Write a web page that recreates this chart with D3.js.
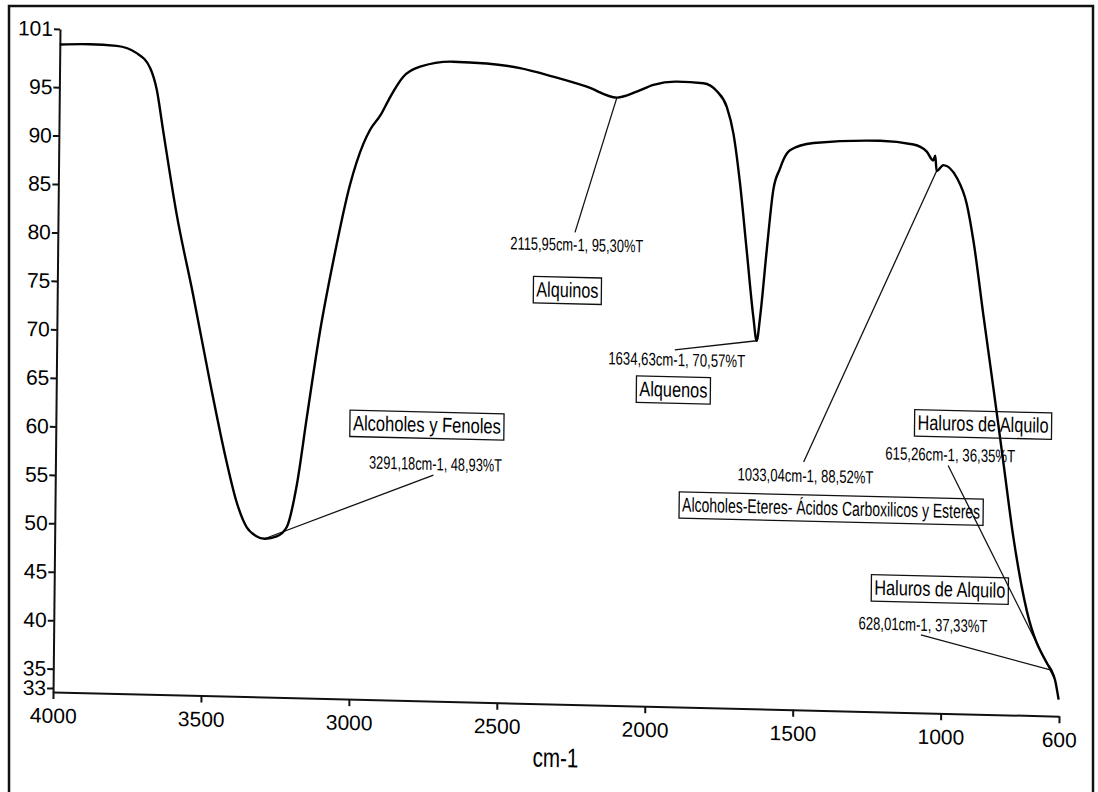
<!DOCTYPE html>
<html>
<head>
<meta charset="utf-8">
<script src="https://cdn.jsdelivr.net/npm/d3@7"></script>
<style>
  body { margin: 0; background: #fff; }
  svg text { font-family: "Liberation Sans Narrow", "Arial Narrow", "Liberation Sans", Arial, sans-serif; fill: #000; }
  .axis path, .axis line { stroke: #111; stroke-width: 2; }
  .axis text { font-size: 21px; }
</style>
</head>
<body>
<div id="chart"></div>
<script>

// spectrum (cm-1, %T)
var wavenumber = [4000, 3900, 3808, 3740, 3694, 3671, 3648, 3600, 3540, 3481, 3422, 3386, 3352, 3320, 3291,
  3250, 3216, 3184, 3152, 3110, 3068, 3015, 2971, 2949, 2914, 2882, 2839, 2782, 2671, 2557, 2444, 2332, 2218,
  2116, 2049, 1993, 1914, 1824, 1778, 1744, 1721, 1697, 1672, 1647, 1635, 1624, 1604, 1584, 1562, 1551, 1529,
  1450, 1225, 1112, 1067, 1045, 1038, 1033, 1010, 964, 930, 906, 870, 833, 797, 761, 712, 643, 628, 615, 602];
var transmittance = [99.4, 99.5, 99.4, 98.7, 97.2, 95.0, 90.8, 82.3, 73.8, 65.0, 56.8, 52.6, 50.1, 49.2, 48.93,
  49.2, 50.2, 54.5, 61.6, 70.6, 77.8, 85.6, 89.9, 91.35, 92.9, 94.8, 96.9, 98.0, 98.6, 98.5, 98.1, 97.3, 96.35,
  95.3, 95.96, 96.7, 97.1, 97.0, 96.2, 94.6, 91.9, 86.8, 79.9, 73.0, 70.57, 73.1, 80.0, 86.2, 88.4, 89.3, 90.3,
  91.1, 91.5, 91.2, 90.5, 89.6, 90.1, 88.52, 89.15, 87.85, 85.2, 81.4, 73.8, 66.2, 58.6, 51.0, 43.3, 38.05, 37.33, 36.35, 34.3];

var xTicks = [4000, 3500, 3000, 2500, 2000, 1500, 1000, 600];
var yTicks = [33, 35, 40, 45, 50, 55, 60, 65, 70, 75, 80, 85, 90, 95, 101];

// picked peaks
var peakWn = [3291.18, 2115.95, 1634.63, 1033.04, 615.26, 628.01];
var peakT = [48.93, 95.30, 70.57, 88.52, 36.35, 37.33];
var peakText = ["3291,18cm-1, 48,93%T", "2115,95cm-1, 95,30%T", "1634,63cm-1, 70,57%T",
  "1033,04cm-1, 88,52%T", "615,26cm-1, 36,35%T", "628,01cm-1, 37,33%T"];

// group names written on the sheet
var groupText = ["Alcoholes y Fenoles", "Alquinos", "Alquenos",
  "Alcoholes-Eteres- Ácidos Carboxilicos y Esteres", "Haluros de Alquilo", "Haluros de Alquilo"];

// where the labels sit on the page: [center x, baseline, width, end of leader y]
var peakPos = [[440, 461, 133, 466], [579, 238.5, 133, 220], [680, 351, 137, 335],
  [810, 464, 136, 444], [954.5, 439.5, 130, 444], [929, 610, 129, 614]];
// [center x, baseline, width, font size]
var groupPos = [[431, 423, 148, 21], [570, 285, 62, 21], [677, 382, 68, 21],
  [836, 496.5, 298, 20], [987, 409, 131, 21], [945.5, 575, 131, 21]];

var W = 1098, H = 792;

var svg = d3.select("#chart").append("svg")
    .attr("width", W)
    .attr("height", H);

// page frame
svg.append("rect")
    .attr("x", 9).attr("y", 6)
    .attr("width", 1084).attr("height", 800)
    .attr("fill", "none")
    .attr("stroke", "#111")
    .attr("stroke-width", 2.5);

// the scan is a bit skewed, so the plot is too
var g = svg.append("g")
    .attr("transform", "matrix(1,0.024,-0.0105,1,0.3,-1.44)");

var x = d3.scaleLinear().domain([4000, 600]).range([60, 1066]);
var y = d3.scaleLinear().domain([32.6, 101]).range([692, 29]);

g.append("g")
    .attr("class", "axis")
    .attr("transform", "translate(0,692)")
    .call(d3.axisBottom(x).tickValues(xTicks).tickFormat(d3.format("d"))
      .tickSize(7).tickSizeOuter(0).tickPadding(9));

g.append("g")
    .attr("class", "axis")
    .attr("transform", "translate(60,0)")
    .call(d3.axisLeft(y).tickValues(yTicks).tickFormat(d3.format("d"))
      .tickSize(6).tickSizeOuter(0).tickPadding(1));

g.selectAll(".axis text").attr("fill", "#000");

// squeeze a text to a given width (the sheet uses a narrow face)
function narrowText(parent, s, cx, base, w, size) {
  var holder = parent.append("g")
      .attr("transform", "translate(" + cx + "," + base + ")");
  var t = holder.append("text")
      .attr("text-anchor", "middle")
      .attr("font-size", size)
      .text(s);
  var k = w / t.node().getComputedTextLength();
  t.attr("transform", "scale(" + k + ",1)");
  return {holder: holder, text: t};
}

narrowText(g, "cm-1", 563, 755, 46, 27);

var data = wavenumber.map(function(d, i) { return {wn: d, t: transmittance[i]}; });

var line = d3.line()
    .x(function(d) { return x(d.wn); })
    .y(function(d) { return y(d.t); })
    .curve(d3.curveMonotoneX);

// leaders
peakWn.forEach(function(wn, i) {
  var p = peakPos[i];
  g.append("line")
      .attr("x1", x(wn)).attr("y1", y(peakT[i]))
      .attr("x2", p[0] - 2).attr("y2", p[3])
      .attr("stroke", "#111")
      .attr("stroke-width", 1.3);
});

g.append("path")
    .datum(data)
    .attr("fill", "none")
    .attr("stroke", "#000")
    .attr("stroke-width", 2.4)
    .attr("stroke-linejoin", "round")
    .attr("d", line);

peakText.forEach(function(s, i) {
  var p = peakPos[i];
  narrowText(g, s, p[0], p[1], p[2], 18);
});

groupText.forEach(function(s, i) {
  var p = groupPos[i];
  var lab = narrowText(g, s, p[0], p[1], p[2], p[3]);
  var b = lab.text.node().getBBox();
  lab.holder.append("rect")
      .attr("x", -p[2] / 2 - 3).attr("y", b.y - 1)
      .attr("width", p[2] + 6).attr("height", b.height + 3)
      .attr("fill", "none")
      .attr("stroke", "#111")
      .attr("stroke-width", 1.3);
});

</script>
</body>
</html>
